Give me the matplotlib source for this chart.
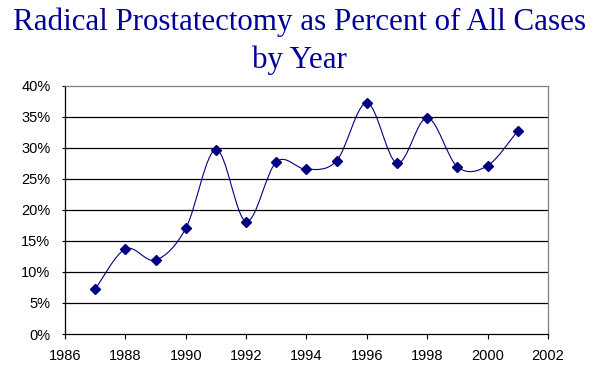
import matplotlib

matplotlib.use("Agg")
import matplotlib.pyplot as plt
import numpy as np
from matplotlib.path import Path
from matplotlib.patches import PathPatch
from matplotlib.ticker import FuncFormatter

# data
years = [1987, 1988, 1989, 1990, 1991, 1992, 1993, 1994,
         1995, 1996, 1997, 1998, 1999, 2000, 2001]
pct = [7.2, 13.7, 11.9, 17.0, 29.7, 18.1, 27.7, 26.5,
       27.9, 37.2, 27.5, 34.8, 26.9, 27.1, 32.7]
x_ticks = list(range(1986, 2003, 2))
y_ticks = list(range(0, 41, 5))
title = "Radical Prostatectomy as Percent of All Cases\nby Year"

NAVY = "#000080"


def smooth_path(xs, ys, tension=1.0 / 6.0):
    """Excel-like smoothed line: cubic bezier segments through every point."""
    pts = np.column_stack([xs, ys]).astype(float)
    n = len(pts)
    verts = [pts[0]]
    codes = [Path.MOVETO]
    for i in range(n - 1):
        p0 = pts[i - 1] if i > 0 else pts[i]
        p1 = pts[i]
        p2 = pts[i + 1]
        p3 = pts[i + 2] if i + 2 < n else pts[i + 1]
        c1 = p1 + (p2 - p0) * tension
        c2 = p2 - (p3 - p1) * tension
        verts += [c1, c2, p2]
        codes += [Path.CURVE4] * 3
    return Path(verts, codes)


fig = plt.figure(figsize=(5.97, 3.71), dpi=100)
ax = fig.add_axes([0.1089, 0.0997, 0.8090, 0.6698])

ax.add_patch(PathPatch(smooth_path(years, pct), facecolor="none",
                       edgecolor=NAVY, linewidth=0.8, zorder=4))
ax.plot(years, pct, linestyle="none", marker="D", markersize=4.6,
        color=NAVY, zorder=5)

ax.set_xlim(1986, 2002)
ax.set_ylim(0, 40)
ax.set_xticks(x_ticks)
ax.set_yticks(y_ticks)
ax.yaxis.set_major_formatter(FuncFormatter(lambda v, p: "{:d}%".format(int(v))))

for y in y_ticks[1:-1]:
    ax.axhline(y, color="black", linewidth=0.9, zorder=1)

for side in ["top", "right"]:
    ax.spines[side].set_color("#808080")
    ax.spines[side].set_linewidth(0.9)
for side in ["left", "bottom"]:
    ax.spines[side].set_color("black")
    ax.spines[side].set_linewidth(0.9)

ax.tick_params(axis="both", direction="out", colors="black",
               labelsize=10.5, width=0.8)
ax.tick_params(axis="x", length=3.5, pad=7)
ax.tick_params(axis="y", length=2.5, pad=8)
for lab in ax.get_xticklabels() + ax.get_yticklabels():
    lab.set_family("Liberation Sans")

# title baselines sit at about y=30 and y=68 px from the top
fig.text(0.502, 1 - 30 / 371, title.split("\n")[0], ha="center",
         va="baseline", color="#000099", family="Liberation Serif",
         fontsize=22.3)
fig.text(0.502, 1 - 68 / 371, title.split("\n")[1], ha="center",
         va="baseline", color="#000099", family="Liberation Serif",
         fontsize=22.3)

fig.savefig("out.png", dpi=100)
